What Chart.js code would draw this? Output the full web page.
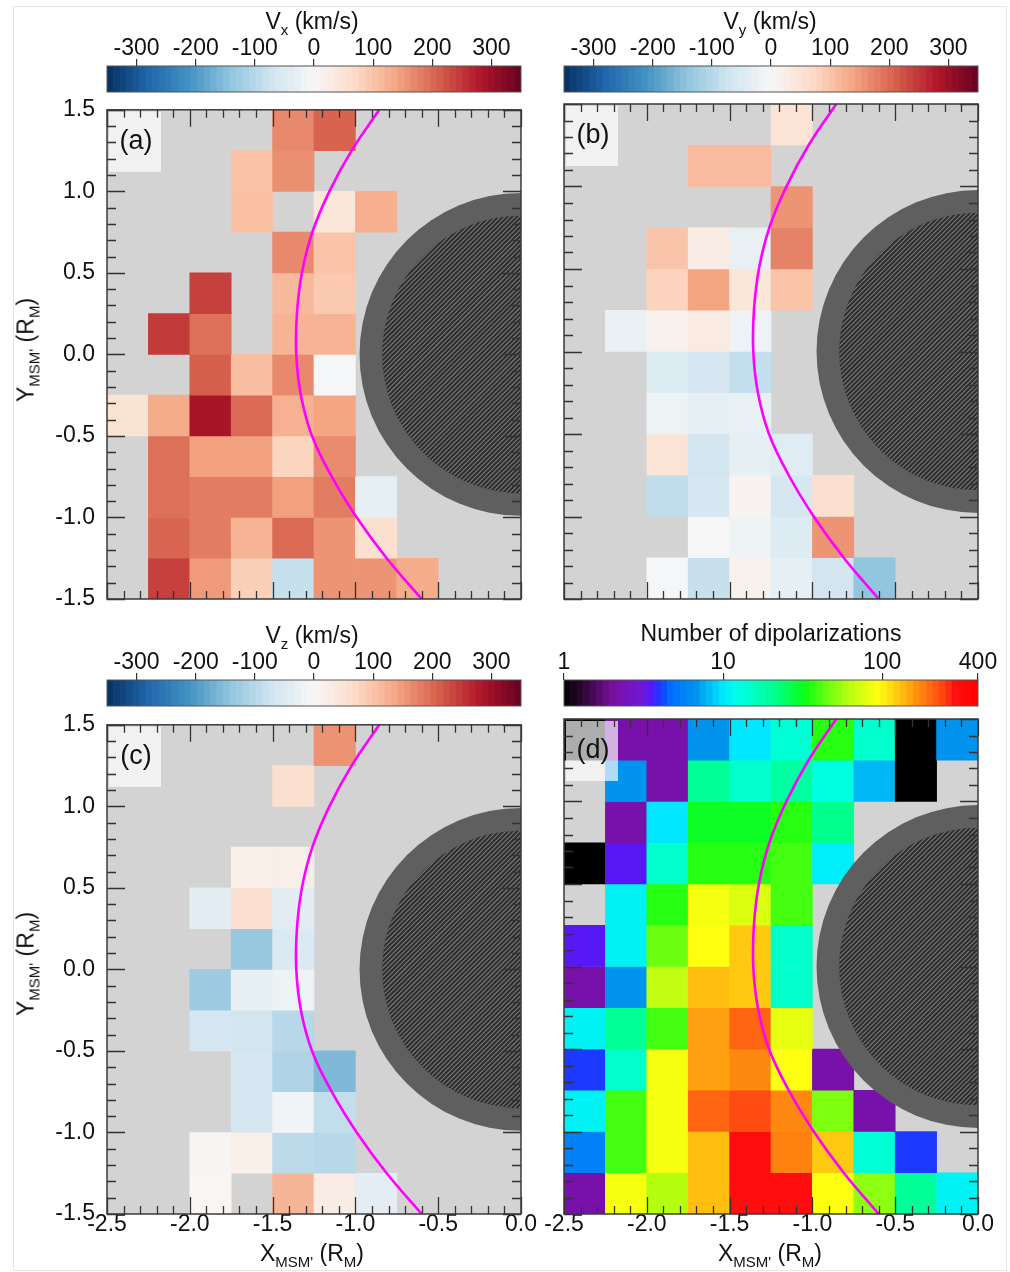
<!DOCTYPE html>
<html>
<head>
<meta charset="utf-8">
<script src="https://cdn.jsdelivr.net/npm/chart.js@4.4.1/dist/chart.umd.min.js"></script>
<style>
  html, body { margin: 0; padding: 0; background: #ffffff; }
  body { position: relative; width: 1010px; height: 1272px; overflow: hidden;
         font-family: "Liberation Sans", Arial, Helvetica, sans-serif; color: #111; }
  canvas { position: absolute; }
  .t { position: absolute; font-size: 23px; line-height: 23px; white-space: nowrap; color: #111; }
  .s { font-size: 15px; position: relative; top: 6px; }
  .frame { position: absolute; left: 13px; top: 6px; width: 992px; height: 1263px; border: 1px solid #e6e6e6; }
</style>
</head>
<body>
<div class="frame"></div>

<canvas id="cbA"></canvas><canvas id="cbB"></canvas><canvas id="cbC"></canvas><canvas id="cbD"></canvas>
<canvas id="pA"></canvas><canvas id="pB"></canvas><canvas id="pC"></canvas><canvas id="pD"></canvas>

<div class="t" style="left:312px;top:10px;transform:translateX(-50%);">V<span class="s">x</span> (km/s)</div>
<div class="t" style="left:770px;top:10px;transform:translateX(-50%);">V<span class="s">y</span> (km/s)</div>
<div class="t" style="left:312px;top:624px;transform:translateX(-50%);">V<span class="s">z</span> (km/s)</div>
<div class="t" style="left:771px;top:622px;transform:translateX(-50%);">Number of dipolarizations</div>

<div class="t" style="left:27px;top:350px;transform:translate(-50%,-50%) rotate(-90deg);">Y<span class="s">MSM'</span> (R<span class="s">M</span>)</div>
<div class="t" style="left:27px;top:964px;transform:translate(-50%,-50%) rotate(-90deg);">Y<span class="s">MSM'</span> (R<span class="s">M</span>)</div>
<div class="t" style="left:312px;top:1242px;transform:translateX(-50%);">X<span class="s">MSM'</span> (R<span class="s">M</span>)</div>
<div class="t" style="left:770px;top:1242px;transform:translateX(-50%);">X<span class="s">MSM'</span> (R<span class="s">M</span>)</div>

<script>
// ---------------- DATA ----------------
const X_BIN_CENTERS = [-2.375, -2.125, -1.875, -1.625, -1.375, -1.125, -0.875, -0.625, -0.375, -0.125];
const Y_BIN_CENTERS = [1.375, 1.125, 0.875, 0.625, 0.375, 0.125, -0.125, -0.375, -0.625, -0.875, -1.125, -1.375];
const BIN = 0.25;
const X_TICKS = [-2.5, -2.0, -1.5, -1.0, -0.5, 0.0];
const Y_TICKS = [-1.5, -1.0, -0.5, 0.0, 0.5, 1.0, 1.5];
const V_TICKS = [-300, -200, -100, 0, 100, 200, 300];
const N_TICKS = [1, 10, 100, 400];
const V_RANGE = [-350, 350];
const N_RANGE = [1, 400];

// Vx (km/s), rows from top (y=1.5) to bottom, columns from x=-2.5 to 0
const VX = [
  [null, null, null, null, 168, 206, null, null, null, null],
  [null, null, null, 102, 162, null, null, null, null, null],
  [null, null, null, 105, null, 42, 126, null, null, null],
  [null, null, null, null, 168, 100, null, null, null, null],
  [null, null, 241, null, 114, 93, null, null, null, null],
  [null, 247, 194, null, 121, 121, null, null, null, null],
  [null, null, 211, 108, 168, -4, null, null, null, null],
  [51, 131, 290, 200, 124, 139, null, null, null, null],
  [null, 194, 145, 145, 78, 166, null, null, null, null],
  [null, 194, 181, 181, 145, 181, -31, null, null, null],
  [null, 205, 181, 121, 199, 157, 58, null, null, null],
  [null, 241, 151, 84, -82, 157, 157, 131, null, null]
];
const VY = [
  [null, null, null, null, null, 50, null, null, null, null],
  [null, null, null, 111, 111, null, null, null, null, null],
  [null, null, null, null, null, 157, null, null, null, null],
  [null, null, 99, 28, -26, 175, null, null, null, null],
  [null, null, 80, 139, 43, 100, null, null, null, null],
  [null, -24, 12, 30, -20, null, null, null, null, null],
  [null, null, -48, -61, -86, null, null, null, null, null],
  [null, null, -18, -31, -28, null, null, null, null, null],
  [null, null, 50, -66, -31, -42, null, null, null, null],
  [null, null, -88, -61, 10, -61, 58, null, null, null],
  [null, null, null, -2, -17, -48, 157, null, null, null],
  [null, null, -4, -80, 15, -31, -66, -140, null, null]
];
const VZ = [
  [null, null, null, null, null, 158, null, null, null, null],
  [null, null, null, null, 58, null, null, null, null, null],
  [null, null, null, null, null, null, null, null, null, null],
  [null, null, null, 22, 22, null, null, null, null, null],
  [null, null, -40, 58, -40, null, null, null, null, null],
  [null, null, null, -133, -53, null, null, null, null, null],
  [null, null, -127, -31, -18, null, null, null, null, null],
  [null, null, -61, -66, -99, null, null, null, null, null],
  [null, null, null, -61, -107, -157, null, null, null, null],
  [null, null, null, -61, -13, -87, null, null, null, null],
  [null, null, 5, 22, -93, -99, null, null, null, null],
  [null, null, 6, null, 119, 28, -37, null, null, null]
];
// Number of dipolarizations
const NDIP = [
  [1, 2.2, 2.2, 6.8, 10, 14, 36, 15, 1, 6.8],
  [null, 6.8, 2.2, 20, 15, 19, 13, 8, 1, null],
  [null, 2.2, 10, 31, 31, 36, 21, null, null, null],
  [1, 3.5, 15, 36, 36, 40, 10.5, null, null, null],
  [null, 11, 36, 89, 75, 40, null, null, null, null],
  [3.5, 11, 46, 95, 125, 15, null, null, null, null],
  [2.2, 6.8, 66, 132, 125, 15, null, null, null, null],
  [11, 20, 40, 153, 207, 81, null, null, null, null],
  [4, 15, 89, 153, 172, 95, 2.2, null, null, null],
  [11, 40, 89, 207, 233, 172, 49, 2.2, null, null],
  [5.7, 40, 89, 132, 315, 179, 125, 14, 4, null],
  [2.2, 89, 62, 132, 315, 315, 95, 52, 20, 11]
];
// Magenta boundary curve (x at given y)
const CURVE_Y = [1.5, 1.25, 1.0, 0.75, 0.5, 0.25, 0.0, -0.25, -0.5, -0.75, -1.0, -1.25, -1.5];
const CURVE_X = [-0.856, -1.023, -1.157, -1.260, -1.323, -1.353, -1.357, -1.329, -1.262, -1.143, -0.992, -0.811, -0.600];
// Planet disc (centre and radii, R_M)
const PLANET_CENTER = [0, 0];
const PLANET_R_OUTER = 0.975;
const PLANET_R_INNER = 0.838;

// ---------------- COLOUR MAPS ----------------
const RDBU = ['#053061', '#2166ac', '#4393c3', '#92c5de', '#d1e5f0', '#f7f7f7',
              '#fddbc7', '#f4a582', '#d6604d', '#b2182b', '#67001f'];
const RAINBOW = [
  [0, '#000000'], [0.05, '#300838'], [0.12, '#7a10a0'], [0.19, '#7018d8'], [0.215, '#5018ff'],
  [0.235, '#1040ff'], [0.26, '#0070ff'], [0.32, '#0094ee'], [0.385, '#00e8ff'], [0.42, '#00ffe8'],
  [0.48, '#00ffb0'], [0.53, '#00ff70'], [0.585, '#10ff10'], [0.65, '#80ff10'], [0.71, '#d0ff10'],
  [0.76, '#ffff10'], [0.80, '#ffd010'], [0.84, '#ffa010'], [0.88, '#ff7010'], [0.92, '#ff4010'],
  [0.945, '#ff1010'], [1, '#ff0000']
];
function hex2rgb(h) { return [parseInt(h.slice(1, 3), 16), parseInt(h.slice(3, 5), 16), parseInt(h.slice(5, 7), 16)]; }
function mix(a, b, t) {
  const A = hex2rgb(a), B = hex2rgb(b);
  return 'rgb(' + A.map((c, i) => Math.round(c + (B[i] - c) * t)).join(',') + ')';
}
function fromStops(stops, f) {
  f = Math.max(0, Math.min(1, f));
  for (let i = 0; i < stops.length - 1; i++) {
    if (f <= stops[i + 1][0]) {
      const t = (f - stops[i][0]) / (stops[i + 1][0] - stops[i][0]);
      return mix(stops[i][1], stops[i + 1][1], t);
    }
  }
  return mix(stops[stops.length - 1][1], stops[stops.length - 1][1], 0);
}
const RDBU_STOPS = RDBU.map((c, i) => [i / (RDBU.length - 1), c]);
function velColor(v) { return fromStops(RDBU_STOPS, (v - V_RANGE[0]) / (V_RANGE[1] - V_RANGE[0])); }
function numColor(n) { return fromStops(RAINBOW, Math.log10(n) / Math.log10(N_RANGE[1])); }

// ---------------- CHART DEFAULTS ----------------
Chart.defaults.font.family = '"Liberation Sans", Arial, Helvetica, sans-serif';
Chart.defaults.font.size = 23;
Chart.defaults.color = '#111';
Chart.defaults.plugins.legend.display = false;
Chart.defaults.plugins.tooltip.enabled = false;

function minorTicks(min, max, step) {
  const out = [];
  const n = Math.round((max - min) / step);
  for (let k = 0; k <= n; k++) out.push(+(min + k * step).toFixed(6));
  return out;
}

const panelPlugin = {
  id: 'panelDecor',
  beforeDatasetsDraw(chart) {
    const { ctx, chartArea: a } = chart;
    ctx.save();
    ctx.fillStyle = '#d3d3d3';
    ctx.fillRect(a.left, a.top, a.right - a.left, a.bottom - a.top);
    ctx.restore();
  },
  beforeDatasetDraw(chart, args) {
    if (args.meta.type !== 'line') return;
    const { ctx, chartArea: a, scales } = chart;
    const xs = scales.x, ys = scales.y;
    const cx = xs.getPixelForValue(PLANET_CENTER[0]);
    const cy = ys.getPixelForValue(PLANET_CENTER[1]);
    const ppu = xs.getPixelForValue(0) - xs.getPixelForValue(-1);
    const ro = PLANET_R_OUTER * ppu, ri = PLANET_R_INNER * ppu;
    ctx.save();
    ctx.beginPath();
    ctx.rect(a.left, a.top, a.right - a.left, a.bottom - a.top);
    ctx.clip();
    ctx.beginPath();
    ctx.arc(cx, cy, ro, 0, Math.PI * 2);
    ctx.fillStyle = '#5f5f5f';
    ctx.fill();
    ctx.beginPath();
    ctx.arc(cx, cy, ri, 0, Math.PI * 2);
    ctx.fillStyle = '#2e2e2e';
    ctx.fill();
    ctx.clip();
    ctx.strokeStyle = '#7a7a7a';
    ctx.lineWidth = 1.1;
    ctx.beginPath();
    for (let d = -2 * ri; d <= 2 * ri; d += 4.6) {
      ctx.moveTo(cx + d - ri, cy + ri);
      ctx.lineTo(cx + d + ri, cy - ri);
    }
    ctx.stroke();
    ctx.restore();
  },
  afterDatasetsDraw(chart, args, opts) {
    const { ctx, chartArea: a, scales } = chart;
    const xs = scales.x, ys = scales.y;
    ctx.save();
    // label box
    ctx.fillStyle = 'rgba(255,255,255,0.68)';
    ctx.fillRect(a.left + 2, a.top + 2, 52, 60);
    ctx.fillStyle = '#111';
    ctx.font = '27px "Liberation Sans", Arial, sans-serif';
    ctx.textAlign = 'center';
    ctx.textBaseline = 'middle';
    ctx.fillText(opts.label, a.left + 29, a.top + 32);
    // inward ticks on all four sides
    ctx.strokeStyle = '#333';
    ctx.lineWidth = 1.3;
    ctx.beginPath();
    minorTicks(xs.min, xs.max, 0.1).forEach(v => {
      const major = X_TICKS.some(t => Math.abs(t - v) < 1e-6);
      const len = major ? 17 : 8;
      const px = Math.round(xs.getPixelForValue(v)) + 0.5;
      ctx.moveTo(px, a.top); ctx.lineTo(px, a.top + len);
      ctx.moveTo(px, a.bottom); ctx.lineTo(px, a.bottom - len);
    });
    minorTicks(ys.min, ys.max, 0.1).forEach(v => {
      const major = Y_TICKS.some(t => Math.abs(t - v) < 1e-6);
      const len = major ? 18 : 9;
      const py = Math.round(ys.getPixelForValue(v)) + 0.5;
      ctx.moveTo(a.left, py); ctx.lineTo(a.left + len, py);
      ctx.moveTo(a.right, py); ctx.lineTo(a.right - len, py);
    });
    ctx.stroke();
    // frame
    ctx.strokeStyle = '#3a3a3a';
    ctx.lineWidth = 1.5;
    ctx.strokeRect(a.left, a.top, a.right - a.left, a.bottom - a.top);
    ctx.restore();
  }
};

function makePanel(id, plot, grid, colorFn, label, showY, showX) {
  const PAD_L = 100, PAD_R = 30, PAD_T = 20, PAD_B = 45;
  const cv = document.getElementById(id);
  cv.style.left = (plot.left - PAD_L) + 'px';
  cv.style.top = (plot.top - PAD_T) + 'px';
  cv.width = PAD_L + plot.w + PAD_R;
  cv.height = PAD_T + plot.h + PAD_B;
  const datasets = [{
    type: 'line', xAxisID: 'x', yAxisID: 'y',
    data: CURVE_X.map((x, i) => ({ x: x, y: CURVE_Y[i] })),
    borderColor: '#ff00ff', borderWidth: 2.6, pointRadius: 0, tension: 0.4, fill: false, order: 0
  }];
  grid.forEach((row, j) => {
    const yc = Y_BIN_CENTERS[j];
    datasets.push({
      type: 'bar', xAxisID: 'xc', yAxisID: 'y', order: 1,
      data: row.map(v => v == null ? null : [yc - BIN / 2, yc + BIN / 2]),
      backgroundColor: row.map(v => v == null ? 'rgba(0,0,0,0)' : colorFn(v)),
      barPercentage: 1, categoryPercentage: 1, grouped: false, borderWidth: 0
    });
  });
  new Chart(cv, {
    type: 'bar',
    data: { labels: X_BIN_CENTERS.map(String), datasets: datasets },
    options: {
      responsive: false, animation: false, devicePixelRatio: 1,
      layout: { padding: { left: 0, right: PAD_R, top: PAD_T, bottom: 0 } },
      plugins: { panelDecor: { label: label } },
      scales: {
        xc: { type: 'category', display: false, offset: true, labels: X_BIN_CENTERS.map(String) },
        x: {
          type: 'linear', position: 'bottom', min: -2.5, max: 0, offset: false,
          afterFit(s) { s.height = PAD_B; },
          afterBuildTicks(s) { s.ticks = X_TICKS.map(v => ({ value: v })); },
          grid: { display: false, drawTicks: false, offset: false }, border: { display: false },
          ticks: { display: showX, padding: -3, autoSkip: false, maxRotation: 0, callback: v => Number(v).toFixed(1) }
        },
        y: {
          type: 'linear', position: 'left', min: -1.5, max: 1.5, offset: false,
          afterFit(s) { s.width = PAD_L; },
          afterBuildTicks(s) { s.ticks = Y_TICKS.map(v => ({ value: v })); },
          grid: { display: false, drawTicks: false }, border: { display: false },
          ticks: { display: showY, padding: 12, autoSkip: false, callback: v => Number(v).toFixed(1) }
        }
      }
    },
    plugins: [panelPlugin]
  });
}

const cbarPlugin = {
  id: 'cbarFrame',
  afterDatasetsDraw(chart) {
    const { ctx, chartArea: a } = chart;
    ctx.save();
    ctx.strokeStyle = '#555';
    ctx.lineWidth = 1;
    ctx.strokeRect(a.left, a.top, a.right - a.left, a.bottom - a.top);
    ctx.restore();
  }
};

function makeColorbar(id, bar, isLog, range, ticks, colorFn) {
  const PADX = 40, TOP = 50, NB = 64;
  const cv = document.getElementById(id);
  cv.style.left = (bar.left - PADX) + 'px';
  cv.style.top = (bar.top - TOP) + 'px';
  cv.width = bar.w + 2 * PADX;
  cv.height = TOP + bar.h + 4;
  const lo = isLog ? Math.log10(range[0]) : range[0];
  const hi = isLog ? Math.log10(range[1]) : range[1];
  const bins = [], cols = [];
  for (let i = 0; i < NB; i++) {
    const t = lo + (i + 0.5) / NB * (hi - lo);
    const v = isLog ? Math.pow(10, t) : t;
    bins.push(String(i));
    cols.push(colorFn(v));
  }
  new Chart(cv, {
    type: 'bar',
    data: { labels: bins, datasets: [{ xAxisID: 'xc', yAxisID: 'y', data: bins.map(() => [0, 1]),
      backgroundColor: cols, barPercentage: 1, categoryPercentage: 1, borderWidth: 0 }] },
    options: {
      responsive: false, animation: false, devicePixelRatio: 1,
      layout: { padding: { left: PADX, right: PADX, top: 0, bottom: 4 } },
      scales: {
        xc: { type: 'category', display: false, offset: true },
        y: { type: 'linear', display: false, min: 0, max: 1 },
        x: {
          type: isLog ? 'logarithmic' : 'linear', position: 'top', min: range[0], max: range[1], offset: false,
          afterFit(s) { s.height = TOP; },
          afterBuildTicks(s) { s.ticks = ticks.map(v => ({ value: v })); },
          grid: { display: true, offset: false, drawOnChartArea: false, drawTicks: true, tickLength: 7, color: '#333', lineWidth: 1.2 },
          border: { display: true, color: '#444' },
          ticks: { padding: -3, autoSkip: false, maxRotation: 0, callback: v => String(v) }
        }
      }
    },
    plugins: [cbarPlugin]
  });
}

const PA = { left: 107, top: 104, w: 414, h: 495 };
const PB = { left: 564, top: 104, w: 414, h: 495 };
const PC = { left: 107, top: 719, w: 414, h: 495 };
const PD = { left: 564, top: 719, w: 414, h: 495 };

makeColorbar('cbA', { left: 107, top: 66, w: 414, h: 26 }, false, V_RANGE, V_TICKS, velColor);
makeColorbar('cbB', { left: 564, top: 66, w: 414, h: 26 }, false, V_RANGE, V_TICKS, velColor);
makeColorbar('cbC', { left: 107, top: 680, w: 414, h: 26 }, false, V_RANGE, V_TICKS, velColor);
makeColorbar('cbD', { left: 564, top: 680, w: 414, h: 26 }, true, N_RANGE, N_TICKS, numColor);

makePanel('pA', PA, VX, velColor, '(a)', true, false);
makePanel('pB', PB, VY, velColor, '(b)', false, false);
makePanel('pC', PC, VZ, velColor, '(c)', true, true);
makePanel('pD', PD, NDIP, numColor, '(d)', false, true);
</script>
</body>
</html>
